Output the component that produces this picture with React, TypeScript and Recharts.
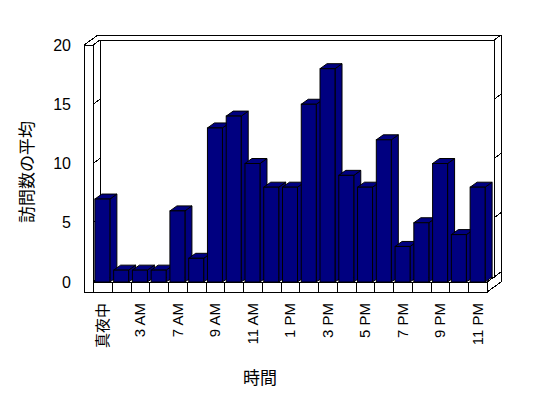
import { BarChart, Bar, XAxis, YAxis, CartesianGrid, Customized } from "recharts";

const hours = [
  "真夜中", "1 AM", "3 AM", "6 AM", "7 AM", "8 AM", "9 AM", "10 AM", "11 AM", "12 PM", "1 PM",
  "2 PM", "3 PM", "4 PM", "5 PM", "6 PM", "7 PM", "8 PM", "9 PM", "10 PM", "11 PM",
];
const visits = [7, 1, 1, 1, 6, 2, 13, 14, 10, 8, 8, 15, 18, 9, 8, 12, 3, 5, 10, 4, 8];
const yTicks = [0, 5, 10, 15, 20];

const data = hours.map((h, i) => ({ hour: h, avg: visits[i] }));

// layout
const W = 548;
const H = 398;
const margin = { top: 45, right: 61, bottom: 36, left: 0 };
const yAxisW = 93;
const xAxisH = 80;
const L = margin.left + yAxisW;
const R = W - margin.right;
const T = margin.top;
const B = H - margin.bottom - xAxisH;
const DX = 7;
const DY = -5;
const WALL = 9;
const FLOOR = 10;

const font = "'Liberation Sans', Arial, 'Noto Sans CJK JP', sans-serif";
const jp = "'Noto Sans CJK JP', sans-serif";
const ln = { stroke: "#000", strokeWidth: 1, shapeRendering: "crispEdges" as const };

function BackWalls() {
  const step = (R - L) / hours.length;
  const dividers = hours.slice(1).map((_, i) => L + (i + 1) * step);
  return (
    <g>
      {/* back wall */}
      <rect x={L + DX} y={T + DY} width={R - L} height={B - T} fill="#fff" {...ln} />
      <polyline
        points={`${L - WALL},${T} ${L - WALL + 2 * DX},${T + 2 * DY} ${R + 2 * DX},${T + 2 * DY} ${R + 2 * DX},${B + FLOOR + 2 * DY} ${R},${B + FLOOR}`}
        fill="none"
        {...ln}
      />
      <line x1={L} y1={T} x2={L + DX} y2={T + DY} {...ln} />
      <line x1={R + DX} y1={T + DY} x2={R + 2 * DX} y2={T + 2 * DY} {...ln} />
      <line x1={R} y1={B} x2={R + 2 * DX} y2={B + 2 * DY} {...ln} />
      {/* floor top */}
      <polygon
        points={`${L},${B} ${R},${B} ${R + DX},${B + DY} ${L + DX},${B + DY}`}
        fill="#fff"
        {...ln}
      />
      {/* floor front */}
      <rect x={L - WALL} y={B} width={R - L + WALL} height={FLOOR} fill="#fff" {...ln} />
      {dividers.map((x, i) => (
        <line key={i} x1={Math.round(x)} y1={B} x2={Math.round(x)} y2={B + FLOOR} {...ln} />
      ))}
      {/* left wall front */}
      <rect x={L - WALL} y={T} width={WALL} height={B + FLOOR - T} fill="#fff" {...ln} />
      <text x={27} y={172} transform="rotate(-90 27 172)" textAnchor="middle" dy="0.36em" fontSize={17} fontFamily={jp}>
        訪問数の平均
      </text>
      <text x={260} y={378} textAnchor="middle" dy="0.36em" fontSize={17} fontFamily={jp}>
        時間
      </text>
    </g>
  );
}

function GridLine(props: any) {
  const { x1, x2, y1 } = props;
  return (
    <g key={props.key}>
      <line x1={L - WALL} y1={y1} x2={L} y2={y1} {...ln} />
      <line x1={L} y1={y1} x2={L + DX} y2={y1 + DY} {...ln} />
      <line x1={x1 + DX} y1={y1 + DY} x2={x2 + DX} y2={y1 + DY} {...ln} />
      <line x1={x2 + DX} y1={y1 + DY} x2={x2 + 2 * DX} y2={y1 + 2 * DY} {...ln} />
    </g>
  );
}

function Box(props: any) {
  const { x, y, width, height } = props;
  if (width == null || height == null) return null;
  const fill = "#000080";
  return (
    <g>
      <polygon
        points={`${x + width},${y} ${x + width + DX},${y + DY} ${x + width + DX},${y + height + DY} ${x + width},${y + height}`}
        fill={fill}
        stroke="#000"
      />
      <polygon
        points={`${x},${y} ${x + width},${y} ${x + width + DX},${y + DY} ${x + DX},${y + DY}`}
        fill={fill}
        stroke="#000"
      />
      <rect x={x} y={y} width={width} height={height} fill={fill} stroke="#000" />
    </g>
  );
}

function HourTick(props: any) {
  const { x, y, payload } = props;
  return (
    <text
      x={x}
      y={y}
      transform={`rotate(-90 ${x} ${y})`}
      textAnchor="end"
      dy="0.36em"
      fontSize={15}
      fontFamily={font}
      fill="#000"
    >
      {payload.value}
    </text>
  );
}

export default function App() {
  return (
    <div style={{ position: "absolute", left: 0, top: 0, width: W, height: H, background: "#fff" }}>
      <BarChart width={W} height={H} data={data} margin={margin} barCategoryGap="10%">
        <Customized component={BackWalls} />
        <CartesianGrid vertical={false} horizontal={GridLine} />
        <XAxis
          dataKey="hour"
          height={xAxisH}
          interval={1}
          tickLine={false}
          axisLine={false}
          tickSize={0}
          tickMargin={21}
          tick={<HourTick />}
        />
        <YAxis
          width={yAxisW}
          domain={[0, 20]}
          ticks={yTicks}
          tickLine={false}
          axisLine={false}
          tickSize={0}
          tickMargin={22}
          tick={{ fontSize: 16, fill: "#000", fontFamily: font }}
        />
        <Bar dataKey="avg" shape={<Box />} isAnimationActive={false} />
      </BarChart>
    </div>
  );
}
